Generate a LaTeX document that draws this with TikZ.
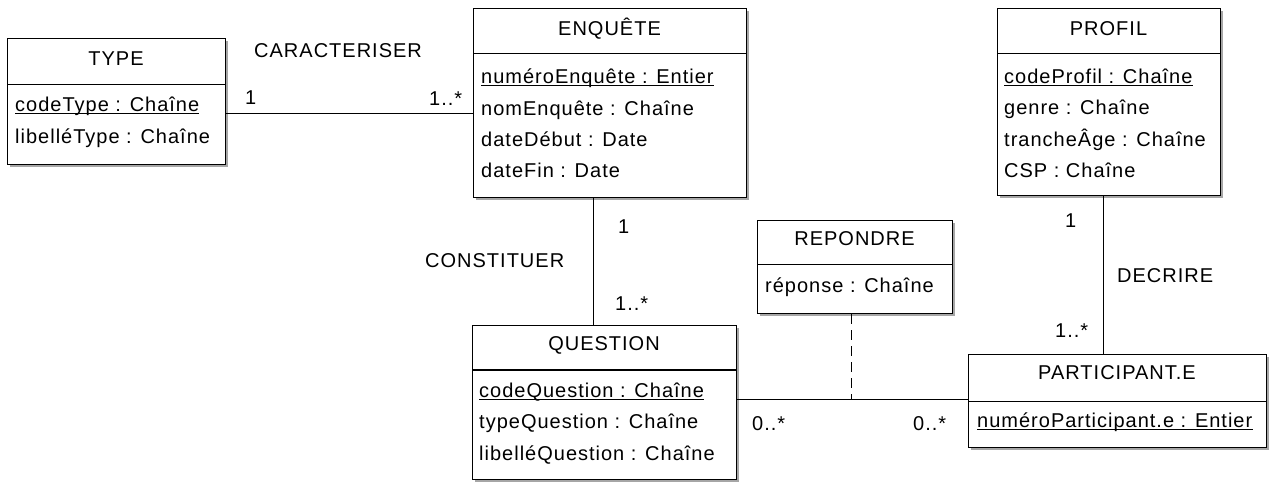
\documentclass[tikz,border=0pt]{standalone}
\usepackage{fontspec}
\setmainfont{Liberation Sans}[LetterSpace=5]
\usetikzlibrary{shadows}
\begin{document}
\begin{tikzpicture}[x=1pt,y=-1pt,
  every node/.style={font=\fontsize{20}{24}\selectfont},
  entity/.style={draw=black, line width=1pt, fill=white, anchor=north west, inner sep=0pt,
    drop shadow={shadow xshift=2pt, shadow yshift=-2pt, fill=black!35, opacity=1}},
  txt/.style={anchor=base west, inner sep=0pt},
  ttl/.style={anchor=base, inner sep=0pt},
  sep/.style={line width=1pt},
  link/.style={line width=1pt},
  keyline/.style={line width=0.9pt}]
\useasboundingbox (0,0) rectangle (1269,482);

% ---------- entities ----------
\node[entity, minimum width=218pt, minimum height=126pt] (type) at (7,38) {};
\node[entity, minimum width=273pt, minimum height=189pt] (enq) at (473,8) {};
\node[entity, minimum width=223pt, minimum height=187pt] (prof) at (997,8) {};
\node[entity, minimum width=195pt, minimum height=93pt] (rep) at (757,220) {};
\node[entity, minimum width=264pt, minimum height=154pt] (qst) at (472,325) {};
\node[entity, minimum width=298pt, minimum height=93pt] (part) at (968,354) {};

% header separators
\draw[sep] (7,84) -- (225,84);
\draw[sep] (473,53) -- (746,53);
\draw[sep] (997,53) -- (1220,53);
\draw[sep] (757,264) -- (952,264);
\draw[line width=2pt] (472,369.5) -- (736,369.5);
\draw[sep] (968,401) -- (1266,401);

% ---------- titles ----------
\node[ttl] (typeT) at (116,65) {TYPE};
\node[ttl] (enqT) at (609.5,35) {ENQUÊTE};
\node[ttl] (profT) at (1108.5,35) {PROFIL};
\node[ttl] (repT) at (854.5,245) {REPONDRE};
\node[ttl] (qstT) at (604,350) {QUESTION};
\node[ttl] (partT) at (1117,379) {PARTICIPANT.E};

% ---------- attributes ----------
\node[txt] (t1) at (15,111) {codeType : Chaîne};
\node[txt] (t2) at (15,143) {libelléType : Chaîne};

\node[txt] (e1) at (481,83) {numéroEnquête : Entier};
\node[txt] (e2) at (481,115) {nomEnquête : Chaîne};
\node[txt] (e3) at (481,146) {dateDébut : Date};
\node[txt] (e4) at (481,177) {dateFin : Date};

\node[txt] (p1) at (1004,83) {codeProfil : Chaîne};
\node[txt] (p2) at (1004,114) {genre : Chaîne};
\node[txt] (p3) at (1004,146) {trancheÂge : Chaîne};
\node[txt] (p4) at (1004,177) {CSP : Chaîne};

\node[txt] (r1) at (765,292) {réponse : Chaîne};

\node[txt] (q1) at (479,397) {codeQuestion : Chaîne};
\node[txt] (q2) at (479,428) {typeQuestion : Chaîne};
\node[txt] (q3) at (479,460) {libelléQuestion : Chaîne};

\node[txt] (a1) at (977,427) {numéroParticipant.e : Entier};

% identifiers are underlined
\foreach \k in {t1,e1,p1,q1,a1}
  \draw[keyline] ([yshift=-2.5pt]\k.base west) -- ([yshift=-2.5pt]\k.base east);

% ---------- associations ----------
\coordinate (yCar) at (0,113);
\coordinate (xCon) at (593,0);
\coordinate (xDec) at (1103,0);
\coordinate (yRep) at (0,399);
\coordinate (mRep) at (851,399);

\draw[link] (type.east |- yCar) -- (enq.west |- yCar);
\draw[link] (enq.south -| xCon) -- (qst.north -| xCon);
\draw[link] (prof.south -| xDec) -- (part.north -| xDec);
\draw[link] (qst.east |- yRep) -- (part.west |- yRep);
\draw[link, dash pattern=on 10pt off 6pt] (rep.south -| mRep) -- (mRep);

% ---------- association names and multiplicities ----------
\node[txt] (lCar) at (254,57) {CARACTERISER};
\node[txt] (mCar1) at (245,104) {1};
\node[txt] (mCar2) at (429,105) {1..*};

\node[txt] (lCon) at (425,267) {CONSTITUER};
\node[txt] (mCon1) at (618,233) {1};
\node[txt] (mCon2) at (615,310) {1..*};

\node[txt] (lDec) at (1117,282) {DECRIRE};
\node[txt] (mDec1) at (1065,227) {1};
\node[txt] (mDec2) at (1055,337) {1..*};

\node[txt] (mRep1) at (752,430) {0..*};
\node[txt] (mRep2) at (913,430) {0..*};
\end{tikzpicture}
\end{document}
